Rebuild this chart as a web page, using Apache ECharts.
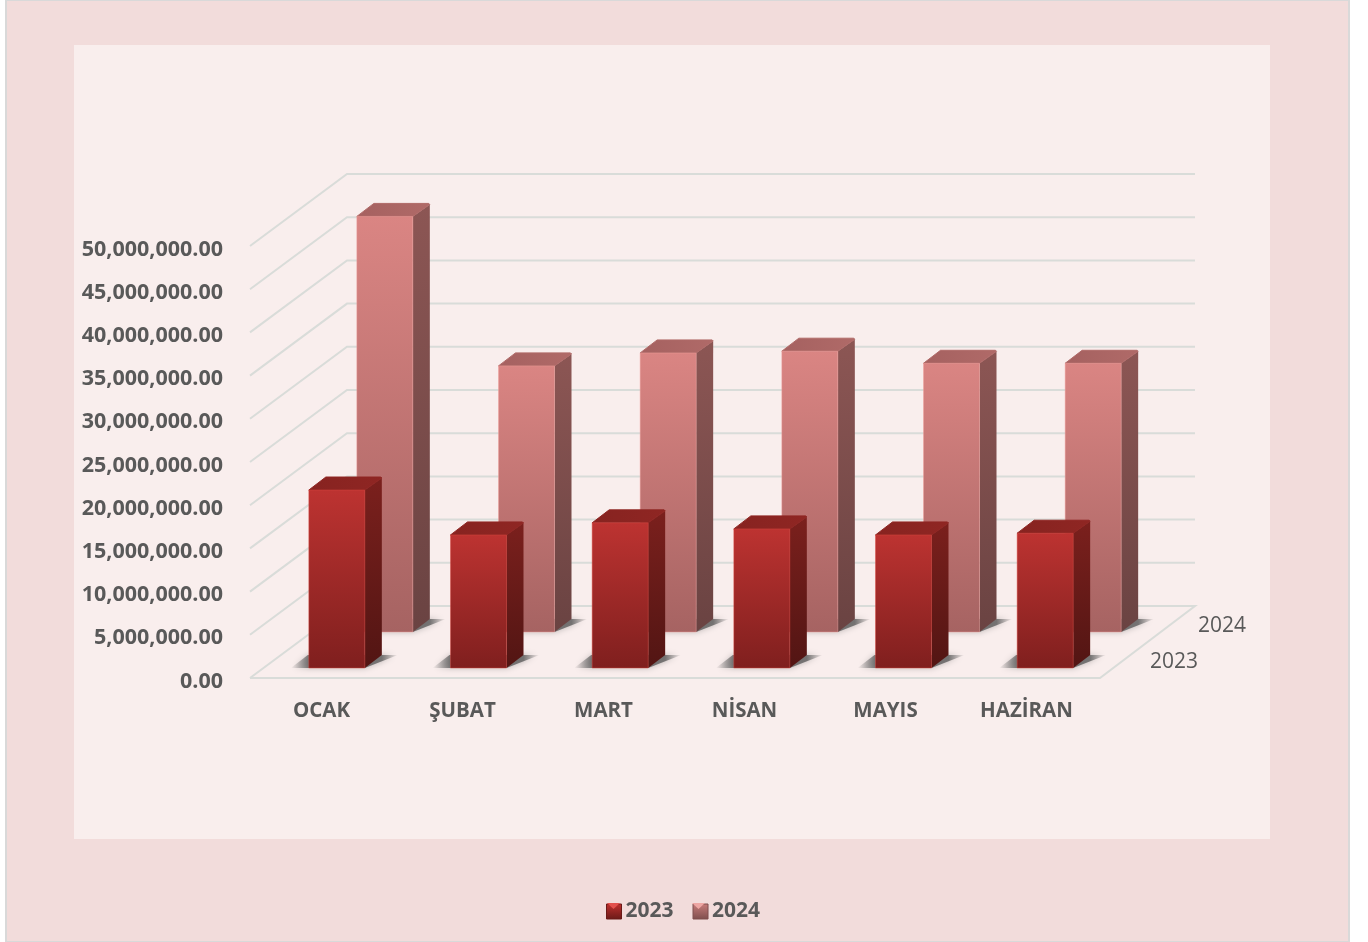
<!DOCTYPE html>
<html>
<head>
    <meta charset="utf-8">
    <title>2023 - 2024</title>
    <style type="text/css">
        * {
            margin: 0;
            padding: 0;
        }
        body {
            background: #fff;
        }
    </style>
</head>
<body>
    <div id="main" style="width: 1368px; height: 942px;"></div>
    <script src="https://cdn.jsdelivr.net/npm/echarts@6/dist/echarts.min.js"></script>
    <script type="text/javascript">
        var months = ['OCAK', 'ŞUBAT', 'MART', 'NİSAN', 'MAYIS', 'HAZİRAN'];
        var years = ['2023', '2024'];
        var values2023 = [20600000, 15400000, 16800000, 16100000, 15400000, 15600000];
        var values2024 = [48100000, 30800000, 32300000, 32500000, 31100000, 31100000];
        var yTicks = [0, 5000000, 10000000, 15000000, 20000000, 25000000, 30000000, 35000000, 40000000, 45000000, 50000000];

        var textColor = '#595959';
        var fontName = '"Open Sans", sans-serif';
        var wallDx = 97, wallDy = -72;     // front edge -> back wall
        var rowDx = 48, rowDy = -36;       // 2023 row -> 2024 row
        var barDx = 17, barDy = -13;       // depth of one bar
        var barW = 56;
        var startDx = 16, startDy = -10;   // category centre on floor edge -> first bar

        function grad(x, y, x2, y2, c1, c2) {
            return new echarts.graphic.LinearGradient(x, y, x2, y2, [
                { offset: 0, color: c1 },
                { offset: 1, color: c2 }
            ]);
        }

        var palettes = [
            { front: ['#bd3331', '#7f1f1e'], side: ['#7b201d', '#521513'], top: ['#872320', '#8f2623'], edge: 'rgba(215,70,65,0.45)' },
            { front: ['#da8583', '#a66362'], side: ['#8c5654', '#6a4342'], top: ['#a56160', '#b06a68'], edge: 'rgba(240,160,155,0.45)' }
        ];

        function poly(points, fill, extra) {
            var el = { type: 'polygon', shape: { points: points }, style: { fill: fill } };
            if (extra) {
                el.style.stroke = extra;
                el.style.lineWidth = 1;
                el.style.lineJoin = 'round';
            }
            return el;
        }

        function barRenderer(row) {
            var pal = palettes[row];
            return function (params, api) {
                var idx = api.value(0);
                var base = api.coord([idx, 0]);
                var top = api.coord([idx, api.value(1)]);
                var x = base[0] + startDx + rowDx * row - barW / 2;
                var yb = base[1] + startDy + rowDy * row;
                var yt = top[1] + startDy + rowDy * row;
                var xr = x + barW;
                var shadow = new echarts.graphic.LinearGradient(0, 0, 1, 0, [
                    { offset: 0, color: 'rgba(85,85,85,0)' },
                    { offset: 0.17, color: 'rgba(85,85,85,0.75)' },
                    { offset: 0.85, color: 'rgba(85,85,85,0.75)' },
                    { offset: 1, color: 'rgba(85,85,85,0)' }
                ]);
                var shadowEl = poly([[x - 18, yb], [xr, yb], [xr + barDx + 16, yb + barDy], [x + barDx - 18, yb + barDy]], shadow);
                shadowEl.style.shadowBlur = 6;
                shadowEl.style.shadowColor = 'rgba(85,85,85,0.5)';
                return {
                    type: 'group',
                    children: [
                        shadowEl,
                        poly([[xr, yb], [xr + barDx, yb + barDy], [xr + barDx, yt + barDy + 1], [xr, yt]], grad(0, 0, 0, 1, pal.side[0], pal.side[1])),
                        poly([[x, yt], [x + barDx, yt + barDy], [xr + barDx - 1, yt + barDy], [xr + barDx, yt + barDy + 1], [xr, yt]], grad(0, 0, 1, 0, pal.top[0], pal.top[1]), pal.top[1]),
                        poly([[x, yt], [xr, yt], [xr, yb], [x, yb]], grad(0, 0, 0, 1, pal.front[0], pal.front[1]), pal.edge)
                    ]
                };
            };
        }

        var myChart = echarts.init(document.getElementById('main'));

        var option = {
            animation: false,
            graphic: [
                { type: 'rect', z: -10, silent: true, shape: { x: 6, y: 0, width: 1343, height: 942 }, style: { fill: '#f2dcdb', stroke: '#d9d9d9', lineWidth: 2 } },
                { type: 'rect', z: -9, silent: true, shape: { x: 74, y: 45, width: 1196, height: 794 }, style: { fill: '#f9eeed' } },
                { type: 'polygon', z: 100, silent: true, shape: { points: [[607, 903], [620, 903], [613.5, 909]] }, style: { fill: '#e2504c' } },
                { type: 'polygon', z: 100, silent: true, shape: { points: [[692, 903], [705, 903], [698.5, 909]] }, style: { fill: '#eda6a3' } }
            ],
            grid: [
                { left: 250, right: 268, top: 246, bottom: 264 },
                // labels only: the text sits a little lower and tighter than the bars
                { left: 251, width: 846, top: 249.5, bottom: 260.5 }
            ],
            xAxis: [
                {
                    type: 'category',
                    data: months,
                    axisLine: { show: false },
                    axisTick: { show: false },
                    axisLabel: { show: false }
                },
                {
                    type: 'category',
                    gridIndex: 1,
                    data: months,
                    axisLine: { show: false },
                    axisTick: { show: false },
                    axisLabel: { color: textColor, fontFamily: fontName, fontWeight: 'bold', fontSize: 20.5, margin: 19.5 }
                }
            ],
            yAxis: [
                {
                    type: 'value',
                    min: 0,
                    max: 50000000,
                    interval: 5000000,
                    axisLine: { show: false },
                    axisTick: { show: false },
                    splitLine: { show: false },
                    axisLabel: { show: false }
                },
                {
                    type: 'value',
                    gridIndex: 1,
                    min: 0,
                    max: 50000000,
                    interval: 5000000,
                    axisLine: { show: false },
                    axisTick: { show: false },
                    splitLine: { show: false },
                    axisLabel: {
                        color: textColor,
                        fontFamily: fontName,
                        fontWeight: 'bold',
                        fontSize: 21.5,
                        margin: 28,
                        formatter: function (v) {
                            return v.toLocaleString('en-US', { minimumFractionDigits: 2, maximumFractionDigits: 2 });
                        }
                    }
                }
            ],
            legend: {
                left: 601,
                top: 896,
                itemWidth: 15,
                itemHeight: 15,
                itemGap: 19,
                selectedMode: false,
                textStyle: { color: textColor, fontFamily: fontName, fontWeight: 'bold', fontSize: 21, padding: [0, 0, 0, -1] },
                data: [
                    { name: years[0], icon: 'rect', itemStyle: { color: grad(0, 0, 0, 1, '#c0302e', '#6a1a18'), borderColor: '#6a1a18', borderWidth: 1 } },
                    { name: years[1], icon: 'rect', itemStyle: { color: grad(0, 0, 0, 1, '#c87c7a', '#7e4e4d'), borderColor: '#7e4e4d', borderWidth: 1 } }
                ]
            },
            series: [
                {
                    // walls and floor
                    type: 'custom',
                    silent: true,
                    clip: false,
                    data: yTicks.map(function (t) { return [0, t]; }),
                    renderItem: function (params, api) {
                        var cs = params.coordSys;
                        var y = api.coord([0, api.value(1)])[1];
                        var left = cs.x, right = cs.x + cs.width;
                        var line = { stroke: '#d9dcd9', lineWidth: 2, fill: null };
                        var pts = [[left, y], [left + wallDx, y + wallDy], [right + wallDx - 2, y + wallDy]];
                        if (api.value(1) === 0) {
                            pts = pts.concat([[right, y], [left, y]]);
                        }
                        return { type: 'polyline', shape: { points: pts }, style: line };
                    }
                },
                {
                    // year names on the depth axis
                    type: 'custom',
                    silent: true,
                    clip: false,
                    data: years.map(function (y, i) { return [i, 0]; }),
                    renderItem: function (params, api) {
                        var i = api.value(0);
                        var cs = params.coordSys;
                        return {
                            type: 'text',
                            style: {
                                x: cs.x + cs.width + 50 + rowDx * i,
                                y: api.coord([0, 0])[1] - 16 + rowDy * i,
                                text: years[i],
                                fill: textColor,
                                font: '21px ' + fontName,
                                textAlign: 'left',
                                textVerticalAlign: 'middle'
                            }
                        };
                    }
                },
                {
                    name: years[1],
                    type: 'custom',
                    silent: true,
                    clip: false,
                    data: values2024.map(function (v, i) { return [i, v]; }),
                    renderItem: barRenderer(1)
                },
                {
                    name: years[0],
                    type: 'custom',
                    silent: true,
                    clip: false,
                    data: values2023.map(function (v, i) { return [i, v]; }),
                    renderItem: barRenderer(0)
                }
            ]
        };

        myChart.setOption(option, true);
    </script>
</body>
</html>
